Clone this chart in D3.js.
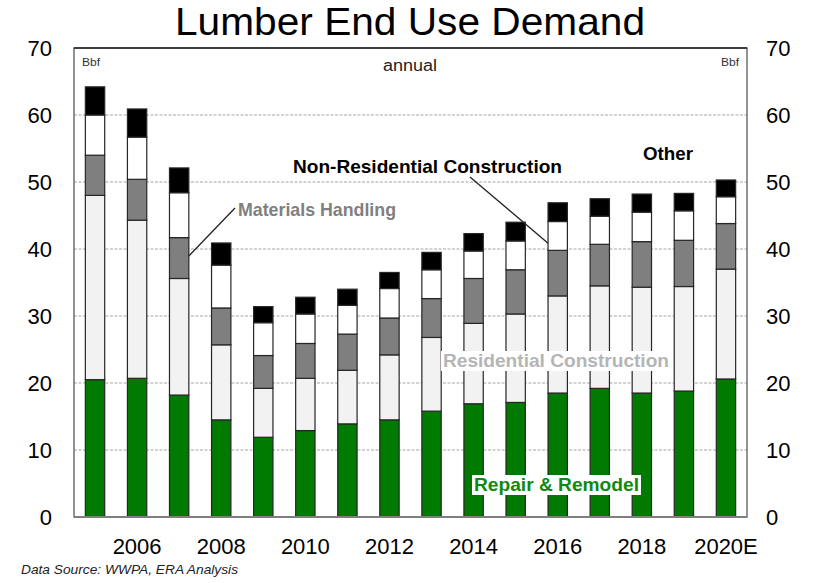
<!DOCTYPE html>
<html><head><meta charset="utf-8">
<script src="https://cdn.jsdelivr.net/npm/d3@7"></script>
<style>body{margin:0;background:#fff;} svg{display:block;font-family:"Liberation Sans",Arial,sans-serif;}</style>
</head><body><svg id="c" width="816" height="583"></svg>
<script>
const years = ["2005","2006","2007","2008","2009","2010","2011","2012","2013","2014","2015","2016","2017","2018","2019","2020"];
const repairRemodel   = [20.5,20.7,18.2,14.5,11.9,12.9,13.9,14.5,15.8,16.9,17.1,18.5,19.2,18.5,18.8,20.6];
const residential     = [27.5,23.6,17.4,11.2, 7.3, 7.8, 8.0, 9.7,11.0,12.0,13.2,14.5,15.3,15.8,15.6,16.4];
const materialsHandl  = [ 6.0, 6.1, 6.1, 5.5, 4.9, 5.2, 5.4, 5.5, 5.8, 6.7, 6.6, 6.8, 6.2, 6.8, 6.9, 6.8];
const nonResidential  = [ 6.0, 6.3, 6.7, 6.4, 4.9, 4.4, 4.3, 4.4, 4.3, 4.1, 4.3, 4.3, 4.2, 4.4, 4.4, 4.0];
const other           = [ 4.2, 4.2, 3.7, 3.3, 2.4, 2.5, 2.4, 2.4, 2.6, 2.6, 2.8, 2.8, 2.6, 2.7, 2.6, 2.5];
const seriesNames = ["Repair & Remodel","Residential Construction","Materials Handling","Non-Residential Construction","Other"];
const xTickLabels = {"2006":"2006","2008":"2008","2010":"2010","2012":"2012","2014":"2014","2016":"2016","2018":"2018","2020":"2020E"};
const yTicks = [0,10,20,30,40,50,60,70];

const colors = ["#007a00","#f2f2f2","#7f7f7f","#ffffff","#000000"];
const svg = d3.select("#c");
const L=74,R=747,T=48,B=517;
const x = d3.scaleBand().domain(years).range([L,R]).paddingInner(0.54).paddingOuter(0.27);
const y = d3.scaleLinear().domain([0,70]).range([B,T]);

const rows = years.map((yr,i)=>({year:yr,s0:repairRemodel[i],s1:residential[i],s2:materialsHandl[i],s3:nonResidential[i],s4:other[i]}));
const stack = d3.stack().keys(["s0","s1","s2","s3","s4"])(rows);

function txt(g,s,xx,yy,size,width,opts={}){
  const t = g.append("text").attr("x",xx).attr("y",yy).attr("font-size",size).text(s);
  if(width) t.attr("textLength",width).attr("lengthAdjust","spacingAndGlyphs");
  Object.entries(opts).forEach(([k,v])=>t.attr(k,v));
  return t;
}

// title
txt(svg,"Lumber End Use Demand",175,35,38.5,470,{fill:"#000"});

// gridlines
svg.append("g").selectAll("line").data(yTicks.filter(d=>d>0&&d<70)).join("line")
  .attr("x1",L).attr("x2",R).attr("y1",d=>y(d)).attr("y2",d=>y(d))
  .attr("stroke","#a6a6a6").attr("stroke-width",1).attr("stroke-dasharray","3,1.5");

// bars
svg.append("g").selectAll("g").data(stack).join("g").attr("fill",(d,i)=>colors[i])
  .selectAll("rect").data(d=>d).join("rect")
  .attr("x",d=>x(d.data.year)).attr("width",x.bandwidth())
  .attr("y",d=>y(d[1])).attr("height",d=>y(d[0])-y(d[1]))
  .attr("stroke","#262626").attr("stroke-width",1.2);

// frame
svg.append("rect").attr("x",L).attr("y",T).attr("width",R-L).attr("height",B-T)
  .attr("fill","none").attr("stroke","#595959").attr("stroke-width",1.3);
svg.append("line").attr("x1",L).attr("x2",R).attr("y1",T).attr("y2",T).attr("stroke","#222").attr("stroke-width",1.6);
svg.append("line").attr("x1",L).attr("x2",R).attr("y1",B).attr("y2",B).attr("stroke","#7f7f7f").attr("stroke-width",2);

// y axes
const yl = svg.append("g").attr("transform",`translate(${L},0)`).call(d3.axisLeft(y).tickValues(yTicks).tickSize(0).tickPadding(22));
const yr = svg.append("g").attr("transform",`translate(${R},0)`).call(d3.axisRight(y).tickValues(yTicks).tickSize(0).tickPadding(19));
[yl,yr].forEach(g=>{g.select(".domain").remove();g.selectAll("text").attr("font-size",22).attr("fill","#000").attr("font-family","Liberation Sans, Arial, sans-serif");});

// x axis
const xa = svg.append("g").attr("transform",`translate(0,${B})`).call(d3.axisBottom(x).tickValues(Object.keys(xTickLabels)).tickFormat(d=>xTickLabels[d]).tickSize(0).tickPadding(21));
xa.select(".domain").remove();
xa.selectAll("text").attr("font-size",22).attr("fill","#000").attr("font-family","Liberation Sans, Arial, sans-serif");

// small labels
txt(svg,"Bbf",82,66,11.5,18,{fill:"#333"});
txt(svg,"Bbf",721,66,11.5,18,{fill:"#333"});
txt(svg,"annual",383,71,16,54,{fill:"#222"});

// annotations
const ann = svg.append("g").attr("font-weight","bold");
txt(ann,seriesNames[3],293,173,17.8,269,{fill:"#000"});
txt(ann,seriesNames[2],238,216,17.8,158,{fill:"#808080"});
txt(ann,seriesNames[4],643,160,17.8,50,{fill:"#000"});
function boxed(s,xx,yy,w,col){
  const t = txt(ann,s,xx,yy,17.8,w,{fill:col});
  const bb = t.node().getBBox();
  ann.insert("rect","text").attr("x",bb.x-2).attr("y",bb.y).attr("width",bb.width+4).attr("height",bb.height).attr("fill","#fff");
}
boxed(seriesNames[1],443,367,226,"#b5b5b5");
boxed(seriesNames[0],474,491,165,"#0f8a0f");

// arrows
const i07 = years.indexOf("2007"), i16 = years.indexOf("2016");
svg.append("line").attr("x1",235).attr("y1",208)
  .attr("x2",x("2007")+x.bandwidth()).attr("y2",y(stack[2][i07][0]+ (stack[2][i07][1]-stack[2][i07][0])*0.55))
  .attr("stroke","#222").attr("stroke-width",1.3);
svg.append("line").attr("x1",470).attr("y1",177)
  .attr("x2",x("2016")).attr("y2",y(stack[3][i16][0]+ (stack[3][i16][1]-stack[3][i16][0])*0.25))
  .attr("stroke","#222").attr("stroke-width",1.3);

txt(svg,"Data Source: WWPA, ERA Analysis",21,574,13.5,217,{"font-style":"italic",fill:"#222"});
</script></body></html>
